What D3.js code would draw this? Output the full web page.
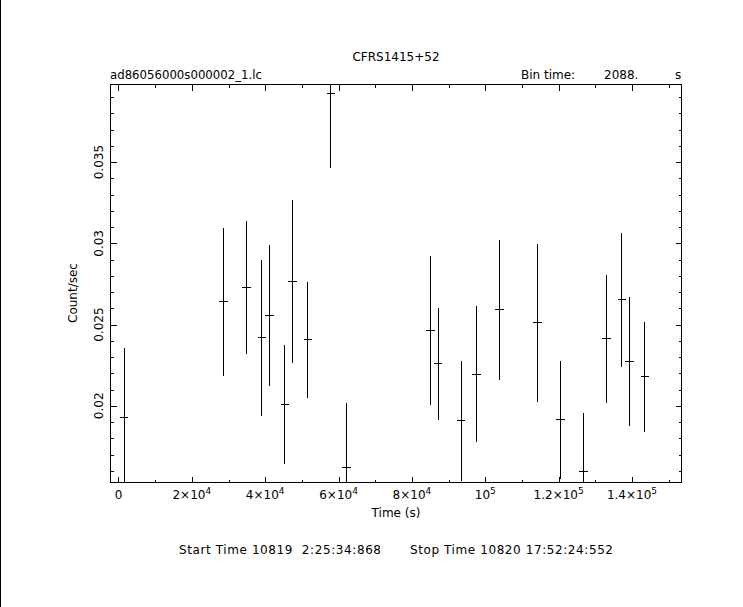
<!DOCTYPE html>
<html>
<head>
<meta charset="utf-8">
<script src="https://cdn.jsdelivr.net/npm/d3@7"></script>
<style>
  html, body { margin: 0; padding: 0; background: #fff; }
  svg { display: block; }
  text { font-family: "DejaVu Sans", sans-serif; fill: #000; }
</style>
</head>
<body>
<svg id="chart" width="743" height="607"></svg>
<script>
// ---- data ----
const times  = [1525, 28669, 34933, 39109, 41197, 45373, 47461, 51637, 57901, 62077,
                85045, 87133, 93397, 97573, 103837, 114277, 120541, 126805, 133069, 137245, 139333, 143509];
const rates  = [0.01930, 0.02640, 0.02730, 0.02419, 0.02558, 0.02006, 0.02767, 0.02406, 0.03925, 0.01622,
                0.02462, 0.02259, 0.01908, 0.02195, 0.02591, 0.02511, 0.01914, 0.01594, 0.02412, 0.02652, 0.02271, 0.02178];
const errors = [0.00429, 0.00455, 0.00408, 0.00479, 0.00433, 0.00367, 0.00501, 0.00356, 0.00458, 0.00398,
                0.00458, 0.00344, 0.00369, 0.00418, 0.00431, 0.00488, 0.00364, 0.00359, 0.00395, 0.00412, 0.00396, 0.00340];
const binTime = 2088;
const xMajorTicks = [0, 20000, 40000, 60000, 80000, 100000, 120000, 140000];
const xTickMant   = ["0", "2", "4", "6", "8", "", "1.2", "1.4"];
const xTickExp    = ["", "4", "4", "4", "4", "5", "5", "5"];
const xMinorTicks = [10000, 30000, 50000, 70000, 90000, 110000, 130000, 150000];
const yMajorTicks = [0.02, 0.025, 0.03, 0.035];
const yTickLabels = ["0.02", "0.025", "0.03", "0.035"];
const yMinorTicks = [0.016, 0.017, 0.018, 0.019, 0.021, 0.022, 0.023, 0.024, 0.026, 0.027, 0.028, 0.029,
                     0.031, 0.032, 0.033, 0.034, 0.036, 0.037, 0.038, 0.039];
const xDomain = [-2180, 153500];
const yDomain = [0.01528, 0.03978];
const title = "CFRS1415+52";
const fileLabel = "ad86056000s000002_1.lc";
const binLabel = ["Bin time:", "2088.", "s"];
const xLabel = "Time (s)";
const yLabel = "Count/sec";
const startStop = ["Start Time 10819  2:25:34:868", "Stop Time 10820 17:52:24:552"];

// ---- layout ----
const L = 110.5, R = 681.5, T = 84.5, B = 482.5;
const svg = d3.select("#chart");
const x = d3.scaleLinear().domain(xDomain).range([L, R]);
const y = d3.scaleLinear().domain(yDomain).range([B, T]);

// left edge line of the window
svg.append("rect").attr("x", 0).attr("y", 0).attr("width", 1).attr("height", 607).attr("fill", "#000");

const g = svg.append("g").attr("shape-rendering", "crispEdges");

// frame
g.append("rect").attr("x", L).attr("y", T).attr("width", R - L).attr("height", B - T)
  .attr("fill", "none").attr("stroke", "#000").attr("stroke-width", 1);

// ticks via d3 axes (inward)
const MAJ = 6, MIN = 3;
function addAxis(axisGen, transform) {
  const a = g.append("g").attr("transform", transform).call(axisGen);
  a.select(".domain").remove();
  a.selectAll("line").attr("stroke", "#000");
  a.selectAll("text").remove();
}
addAxis(d3.axisBottom(x).tickValues(xMajorTicks).tickSize(-MAJ), `translate(0,${B})`);
addAxis(d3.axisBottom(x).tickValues(xMinorTicks.filter(v => v <= xDomain[1])).tickSize(-MIN), `translate(0,${B})`);
addAxis(d3.axisTop(x).tickValues(xMajorTicks).tickSize(-MAJ), `translate(0,${T})`);
addAxis(d3.axisTop(x).tickValues(xMinorTicks.filter(v => v <= xDomain[1])).tickSize(-MIN), `translate(0,${T})`);
addAxis(d3.axisLeft(y).tickValues(yMajorTicks).tickSize(-MAJ), `translate(${L},0)`);
addAxis(d3.axisLeft(y).tickValues(yMinorTicks).tickSize(-MIN), `translate(${L},0)`);
addAxis(d3.axisRight(y).tickValues(yMajorTicks).tickSize(-MAJ), `translate(${R},0)`);
addAxis(d3.axisRight(y).tickValues(yMinorTicks).tickSize(-MIN), `translate(${R},0)`);

// x tick labels with superscripts
const fs = 12;
xMajorTicks.forEach((v, i) => {
  const t = svg.append("text").attr("x", x(v)).attr("y", 499).attr("text-anchor", "middle")
    .attr("font-size", fs);
  if (xTickExp[i] === "") {
    t.text(xTickMant[i]);
  } else {
    const base = xTickMant[i] === "" ? "10" : xTickMant[i] + "\u00d710";
    t.append("tspan").text(base);
    t.append("tspan").attr("dy", -5).attr("font-size", 9).text(xTickExp[i]);
  }
});

// y tick labels (rotated)
yMajorTicks.forEach((v, i) => {
  svg.append("text").attr("transform", `translate(103,${y(v)}) rotate(-90)`)
    .attr("text-anchor", "middle").attr("font-size", fs).text(yTickLabels[i]);
});

// axis labels
svg.append("text").attr("x", (L + R) / 2).attr("y", 517).attr("text-anchor", "middle")
  .attr("font-size", fs).text(xLabel);
svg.append("text").attr("transform", `translate(77,293) rotate(-90)`)
  .attr("text-anchor", "middle").attr("font-size", fs).text(yLabel);

// header texts
svg.append("text").attr("x", (L + R) / 2).attr("y", 61).attr("text-anchor", "middle")
  .attr("font-size", fs).text(title);
svg.append("text").attr("x", 110).attr("y", 79).attr("font-size", fs)
  .attr("textLength", 152).attr("lengthAdjust", "spacingAndGlyphs").text(fileLabel);
svg.append("text").attr("x", 521).attr("y", 79).attr("font-size", fs).text(binLabel[0]);
svg.append("text").attr("x", 604).attr("y", 79).attr("font-size", fs).text(binLabel[1]);
svg.append("text").attr("x", 675).attr("y", 79).attr("font-size", fs).text(binLabel[2]);

// start/stop (keep the double space)
svg.append("text").attr("x", 179).attr("y", 554).attr("font-size", fs)
  .attr("textLength", 202).attr("lengthAdjust", "spacing")
  .text(startStop[0].replace(/ {2}/g, " \u00a0"));
svg.append("text").attr("x", 410).attr("y", 554).attr("font-size", fs)
  .attr("textLength", 203).attr("lengthAdjust", "spacing").text(startStop[1]);

// data (error bars), clipped to frame
svg.append("clipPath").attr("id", "clip").append("rect")
  .attr("x", L).attr("y", T).attr("width", R - L).attr("height", B - T);
const dg = svg.append("g").attr("clip-path", "url(#clip)").attr("shape-rendering", "crispEdges");
const pts = times.map((t, i) => ({t, r: rates[i], e: errors[i]}));
dg.selectAll("line.v").data(pts).join("line").attr("class", "v")
  .attr("x1", d => x(d.t)).attr("x2", d => x(d.t))
  .attr("y1", d => y(d.r - d.e)).attr("y2", d => y(d.r + d.e))
  .attr("stroke", "#000").attr("stroke-width", 1);
dg.selectAll("line.h").data(pts).join("line").attr("class", "h")
  .attr("x1", d => x(d.t - binTime / 2)).attr("x2", d => x(d.t + binTime / 2))
  .attr("y1", d => y(d.r)).attr("y2", d => y(d.r))
  .attr("stroke", "#000").attr("stroke-width", 1).attr("stroke-linecap", "square");
</script>
</body>
</html>
